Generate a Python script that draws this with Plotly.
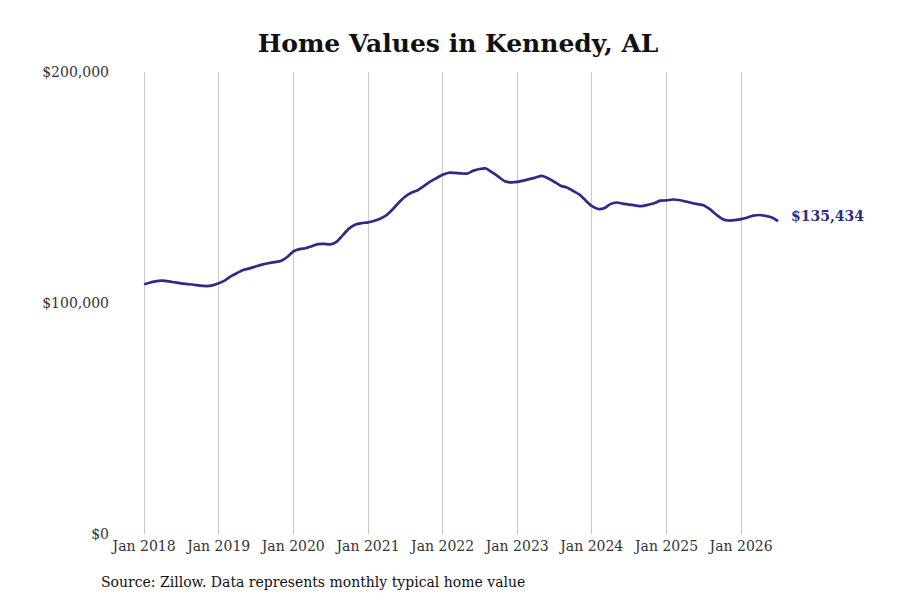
import pandas as pd
import plotly.graph_objects as go

# monthly typical home value, Jan 2018 - Jul 2026
dates = pd.date_range("2018-01-01", "2026-07-01", freq="MS")
values = [
    108100, 108900, 109500, 109650, 109400, 108900, 108500, 108200, 107900, 107500, 107300, 107600,
    108500, 109800, 111500, 113000, 114300, 115000, 115800, 116600, 117200, 117700, 118200, 119800,
    122300, 123300, 123700, 124600, 125500, 125600, 125400, 126600, 129500, 132300, 134000, 134600,
    134900, 135600, 136500, 138000, 140500, 143500, 146000, 147700, 148800, 150600, 152500, 154000,
    155500, 156400, 156300, 156100, 156000, 157300, 158000, 158200, 156500, 154700, 152700, 152200,
    152400, 153000, 153600, 154300, 155000, 154000, 152500, 150800, 150000, 148600, 147000, 144500,
    142000, 140700, 141000, 142800, 143500, 143000, 142600, 142200, 141900, 142500, 143200, 144300,
    144400, 144800, 144600, 144000, 143400, 142800, 142300, 140600, 138300, 136400, 135700, 135900,
    136300, 137000, 137800, 138100, 137700, 137000, 135434,
]
y_ticks = [0, 100000, 200000]
y_labels = ["$0", "$100,000", "$200,000"]
x_ticks = pd.date_range("2018-01-01", "2026-01-01", freq="YS")
x_labels = [d.strftime("Jan %Y") for d in x_ticks]

line_color = "#2e2b87"
serif = "DejaVu Serif"

fig = go.Figure()
fig.add_trace(go.Scatter(
    x=dates, y=values, mode="lines",
    line=dict(color=line_color, width=2.7, shape="spline", smoothing=0.6),
    hoverinfo="skip",
))

fig.add_annotation(
    x=dates[-1], y=values[-1], text="<b>$" + f"{values[-1]:,}" + "</b>",
    showarrow=False, xanchor="left", xshift=11, yshift=5,
    font=dict(family=serif, size=14, color=line_color),
)
fig.add_annotation(
    text="Source: Zillow. Data represents monthly typical home value",
    xref="paper", yref="paper", x=-0.028, y=-0.104, xanchor="left", yanchor="middle",
    showarrow=False, font=dict(family=serif, size=14, color="#111111"),
)

fig.update_layout(
    width=900, height=600,
    margin=dict(l=112, r=38, t=64, b=74),
    paper_bgcolor="white", plot_bgcolor="white",
    showlegend=False,
    title=dict(text="<b>Home Values in Kennedy, AL</b>", x=0.5, xanchor="center",
               y=0.942, yanchor="middle",
               font=dict(family=serif, size=25, color="#111111")),
    font=dict(family=serif, size=14, color="#333333"),
)
fig.update_xaxes(
    range=["2017-09-05", "2027-09-24"],
    tickvals=x_ticks, ticktext=x_labels,
    showgrid=True, gridcolor="#c8c8c8", gridwidth=1,
    zeroline=False, showline=False, ticks="", ticklabelstandoff=2,
    tickfont=dict(family=serif, size=14, color="#333333"),
)
fig.update_yaxes(
    range=[0, 200000],
    tickvals=y_ticks, ticktext=y_labels,
    showgrid=False, zeroline=False, showline=False, ticks="", ticklabelstandoff=10,
    tickfont=dict(family=serif, size=14, color="#333333"),
)

fig.write_html("out.html")
